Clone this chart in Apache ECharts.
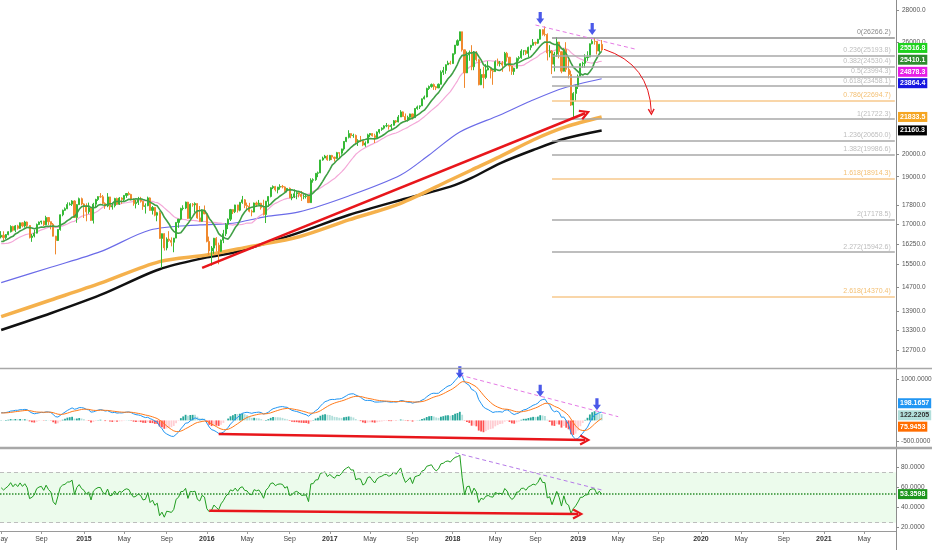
<!DOCTYPE HTML>
<html>
<head>
	<meta charset="utf-8"/>
	<title>DJI weekly</title>
	<script src="https://cdn.jsdelivr.net/npm/echarts@6.0.0/dist/echarts.min.js"></script>
	<style>
		* { padding: 0px; margin: 0px; }
		body { background: #ffffff; }
		#chart { width: 932px; height: 550px; }
	</style>
</head>
<body>
	<div id="chart"></div>
	<script>
		// closes before the first visible week (Jul 2013 - May 2014), only warm up the indicators
		const priorClose = [
			15136,15464,15544,15559,15658,15425,15081,15010,14810,14922,15376,15452,15258,15072,15237,15400,15570,15615,15762,15962,
			16065,16086,16020,15755,16221,16479,16469,16437,16458,15879,15699,15794,16154,16103,16322,16453,16065,16302,16323,16413,
			16027,16409,16361,16513
		];
		// weekly bars from the week of 2014-05-05 to the week of 2019-03-18
		const weekClose = [
			16583,16491,16606,16717,16924,16776,16947,16851,17068,16944,17100,16961,16493,16554,16663,17001,17098,17138,16988,17280,17113,17010,16544,16380,16805,17391,17573,17635,17810,17828,17958,17280,17805,18053,
			17833,17737,17511,17673,17165,17824,18019,18140,18133,17856,17749,18128,17713,17763,18058,17826,18080,18024,18191,18272,18232,18011,17849,17898,18016,17947,17730,17760,18086,17568,17690,17373,17477,16460,16643,16102,16433,16385,16315,16472,17084,17216,17647,17664,17910,17245,17824,17798,17848,17265,17128,17553,17425,
			16347,15988,16094,16466,16205,15974,16392,16640,17007,17213,17602,17515,17793,17577,17898,18004,17774,17740,17535,17501,17873,17807,17865,17675,17401,17949,18147,18517,18571,18432,18544,18576,18553,18396,18492,18085,18124,18261,18308,18240,18138,18146,18161,17888,18848,18868,19152,19171,19757,19843,19934,19763,
			19964,19886,19827,20094,20071,20269,20624,20822,21005,20903,20915,20597,20663,20656,20453,20548,20941,21007,20897,20805,21080,21206,21272,21384,21395,21350,21414,21638,21580,21830,22092,21858,21675,21814,21988,21798,22268,22350,22405,22774,22871,23329,23434,23539,23422,23358,23558,24231,24329,24652,24754,24719,
			25296,25803,26072,26617,25521,24190,25219,25310,24538,25336,24946,23533,24103,23933,24360,24463,24311,24263,24831,24715,24753,24635,25317,25090,24581,24271,24456,25019,25058,25451,25463,25313,25669,25790,25965,25917,26155,26744,26458,26447,25340,25444,24688,25271,25989,25413,24285,25538,24389,24100,22445,23062,
			23433,23996,24706,24737,25064,25106,25883,26031,26026,25450,25849,25516.8
		];
		const weekHigh = [
			16740,16735,16630,16735,16970,16950,16980,16990,17080,17090,17150,17120,16980,16630,16800,17040,17120,17150,17150,17350,17300,17120,17060,16560,16820,17400,17600,17690,17900,17900,17990,17990,17830,18100,
			18100,17860,17860,17890,17690,17880,18050,18160,18290,18210,17900,18290,18130,17880,18090,18100,18120,18110,18210,18290,18350,18260,18070,18000,18130,18130,17950,17860,18140,18110,17750,17700,17510,17540,16650,16660,16500,16740,16500,16480,17090,17220,17680,17780,17930,17920,17860,17870,17900,17860,17750,17610,17770,
			17430,16530,16170,16480,16510,16300,16420,16790,17060,17240,17630,17620,17800,17800,17920,18170,18040,17890,17880,17600,17890,17930,18000,17880,18010,17960,18150,18540,18620,18600,18560,18670,18640,18580,18500,18530,18260,18450,18370,18370,18380,18240,18260,18190,18930,18930,19160,19230,19760,19910,19990,19990,
			19990,19990,19900,20130,20100,20280,20640,20840,21170,21010,21000,20960,20730,20890,20670,20630,21000,21030,21030,21000,21110,21230,21310,21420,21530,21450,21480,21680,21680,21930,22180,22120,22010,21900,22000,22000,22290,22420,22420,22790,22950,23370,23490,23600,23600,23460,23600,24330,24530,24670,24880,24880,
			25300,25810,26150,26620,26620,25530,25430,25480,25800,25450,25450,25000,24420,24540,24690,24860,24480,24410,24900,25010,24870,24870,25400,25400,25100,24600,24480,25070,25150,25560,25490,25520,25710,25820,26170,26010,26180,26770,26770,26950,26520,25800,25510,25400,26280,26000,25420,25620,25980,24950,24320,23130,
			23530,24100,24740,24830,25260,25440,25900,26160,26240,26050,25880,26110
		];
		const weekLow = [
			16460,16370,16440,16580,16690,16730,16700,16800,16830,16890,16880,16900,16460,16330,16500,16650,16980,17010,16940,16980,16980,16810,16540,15860,16360,16760,17330,17550,17620,17770,17750,17270,17070,17800,
			17780,17260,17130,17430,17140,17040,17690,17960,18090,17800,17630,17700,17590,17600,17690,17800,17790,17840,17930,18090,18190,17980,17760,17650,17790,17890,17590,17440,17740,17560,17400,17330,17130,16450,15370,16000,16010,16330,16160,15940,16470,16870,17170,17570,17620,17220,17240,17720,17490,17230,17120,17110,17420,
			16310,15840,15450,15880,15960,15500,15950,16280,16550,16820,17140,17420,17460,17480,17530,17840,17660,17590,17490,17330,17490,17710,17770,17600,17360,17060,17720,18110,18460,18360,18280,18440,18490,18340,18320,18080,17990,18080,18030,18110,17960,18030,18060,17880,17880,18740,18820,18980,19160,19720,19840,19720,
			19720,19750,19680,19800,19830,20000,20190,20590,20770,20780,20800,20510,20410,20590,20400,20370,20530,20840,20860,20550,20780,21000,21140,21210,21320,21200,21230,21400,21520,21560,21830,21840,21600,21600,21710,21700,21800,22200,22240,22400,22740,22850,23250,23370,23250,23240,23350,23550,24070,24140,24650,24660,
			24700,25240,25760,26050,25420,23360,24180,24880,24340,24340,24840,23500,23510,23340,23840,24330,23880,23530,24250,24590,24550,24250,24620,24830,24270,24080,24080,24420,24880,25000,25200,25220,25080,25500,25780,25790,25880,26150,26380,26340,24900,25080,24120,24270,25100,25020,24170,24270,24240,23880,22400,21710,
			22640,23300,23980,24480,24480,24880,25090,25850,25830,25250,25350,25450
		];

		// long moving averages: [week index, value]
		const ma100Pts = [[0,14851],[21,15392],[42,15960],[63,16786],[84,16983],[98,17050],[112,17316],[126,17505],[147,18169],[169,19077],[181,19986],[194,21085],[211,21936],[224,22660],[238,23354],[254,23864.4]];
		const ma150Pts = [[0,13721],[21,14264],[42,14832],[67,15596],[87,15838],[105,16148],[126,16526],[147,17183],[169,17862],[190,18855],[199,19300],[211,19908],[225,20695],[239,21344],[254,21833.5]];
		const ma200Pts = [[0,13302],[21,13830],[42,14432],[67,15322],[87,15752],[98,15922],[112,16277],[126,16682],[147,17383],[169,17998],[190,18565],[199,18946],[211,19602],[225,20218],[239,20778],[254,21160.3]];

		// fibonacci extension levels
		const fibRatio = ['0','0.236','0.382','0.5','0.618','0.786','1','1.236','1.382','1.618','2','2.272','2.618'];
		const fibPrice = [26266.2,25193.8,24530.4,23994.3,23458.1,22694.7,21722.3,20650.0,19986.6,18914.3,17178.5,15942.6,14370.4];
		const fibFrom = 233, fibTo = 378;

		// hand drawn annotations: [week index, value]
		const priceTrend = [[85,15367],[247,22022]];
		const priceFall = [[255,25554],[275,22082]];
		const priceDash = [[226,27040],[268,25573]];
		const priceArrowPts = [[228,27484],[250,26790]];
		const macdTrend = [[92,-331],[247,-477]];
		const macdDash = [[194,1104],[261,90]];
		const macdArrowPts = [[194,1169],[228,722],[252,391]];
		const rsiTrend = [[88,36.9],[244,33.6]];
		const rsiDash = [[192,94.5],[254,57.5]];

		// axis ticks and last value tags
		const priceTicks = [12700,13300,13900,14700,15500,16250,17000,17800,19000,20000,26000,28000];
		const macdTicks = [-500,1000];
		const rsiTicks = [20,40,60,80];
		const priceTags = [25516.8,25410.1,24878.3,23864.4,21833.5,21160.3];
		const macdTags = [198.1657,122.2205,75.9453];
		const rsiTags = [53.3598];

		const UP = '#35b935', DOWN = '#f0892e';
		const ARROW_DOWN = 'path://M3,0 L7,0 L7,7 L10,7 L5,13 L0,7 L3,7 Z';
		const CHEVRON = 'path://M0,9 L5,0 L10,9 L8.2,10 L5,3.8 L1.8,10 Z';
		const FONT = "'Liberation Sans', Arial, sans-serif";

		// weekly categories, running on past the data as in the picture
		const weeks = [];
		for (let i = 0; i < 379; i++) {
			weeks.push(new Date(Date.UTC(2014, 4, 5 + 7 * i)).toISOString().slice(0, 10));
		}
		const monthNames = ['Jan','Feb','Mar','Apr','May','Jun','Jul','Aug','Sep','Oct','Nov','Dec'];
		function showLabel(i) {
			const m = weeks[i].slice(5, 7);
			const first = i === 0 || m !== weeks[i - 1].slice(5, 7);
			return first && (+m - 1) % 4 === 0;
		}
		function fmtDate(v) {
			const m = +v.slice(5, 7) - 1;
			return m === 0 ? '{y|' + v.slice(0, 4) + '}' : monthNames[m];
		}

		// indicators
		const allClose = priorClose.concat(weekClose);
		const P = priorClose.length;
		function sma(src, n) {
			let s = 0;
			return src.map((v, i) => {
				s += v;
				if (i >= n) s -= src[i - n];
				return i >= n - 1 ? s / n : null;
			});
		}
		function ema(src, n) {
			const k = 2 / (n + 1);
			let e = src[0];
			return src.map((v, i) => (e = i ? v * k + e * (1 - k) : v));
		}
		function rsi(src, n) {
			const out = [null];
			let g = 0, l = 0;
			for (let i = 1; i < src.length; i++) {
				const d = src[i] - src[i - 1];
				const up = Math.max(d, 0), dn = Math.max(-d, 0);
				if (i <= n) {
					g += up / n; l += dn / n;
					out.push(i === n ? 100 - 100 / (1 + g / l) : null);
				} else {
					g = (g * (n - 1) + up) / n;
					l = (l * (n - 1) + dn) / n;
					out.push(l === 0 ? 100 : 100 - 100 / (1 + g / l));
				}
			}
			return out;
		}
		const ma10 = sma(allClose, 10).slice(P);
		const ma20 = sma(allClose, 20).slice(P);
		const e12 = ema(allClose, 12), e26 = ema(allClose, 26);
		const macdAll = allClose.map((v, i) => e12[i] - e26[i]);
		const sigAll = ema(macdAll, 9);
		const histAll = macdAll.map((v, i) => v - sigAll[i]);
		const macdLine = macdAll.slice(P);
		const signalLine = sigAll.slice(P);
		const histItems = histAll.slice(P).map((v, i) => {
			const prev = histAll[P + i - 1];
			let c;
			if (v >= 0) c = v > prev ? '#26a69a' : '#b2dfdb';
			else c = v < prev ? '#ff5252' : '#ffcdd2';
			return { value: v, itemStyle: { color: c } };
		});
		const rsiLine = rsi(allClose, 14).slice(P);

		const candles = weekClose.map((c, i) => [allClose[P + i - 1], c, weekLow[i], weekHigh[i]]);

		function seg(pts, style, arrow, size) {
			return [
				{ coord: pts[0], lineStyle: style, symbol: 'none', label: { show: false } },
				{ coord: pts[1], symbol: arrow || 'none', symbolSize: size || 10 }
			];
		}
		const RED = { color: '#e8161b', width: 2.5, type: 'solid' };
		const PINK = { color: '#e57ae5', width: 1, type: [4, 3] };

		const fibLines = fibPrice.map((p, i) => {
			const orange = ['0.786', '1.618', '2.618'].indexOf(fibRatio[i]) >= 0;
			const lineColor = i === 0 ? '#8f8f8f' : (orange ? '#f7c98c' : '#a9a9a9');
			const textColor = i === 0 ? '#8a8a8a' : (orange ? '#f3bf72' : '#bdbdbd');
			return [
				{
					coord: [fibFrom, p], symbol: 'none',
					lineStyle: { color: lineColor, width: 1.5, type: 'solid' },
					label: {
						show: true, position: 'insideEndTop', distance: [4, 2],
						formatter: fibRatio[i] + '(' + p.toFixed(1) + ')',
						color: textColor, fontSize: 7, fontFamily: FONT
					}
				},
				{ coord: [fibTo, p], symbol: 'none' }
			];
		});

		const priceAxisBase = {
			position: 'right',
			axisLine: { show: true, lineStyle: { color: '#8c8c8c', width: 1 } },
			splitLine: { show: false }
		};

		const option = {
			animation: false,
			backgroundColor: '#ffffff',
			textStyle: { fontFamily: FONT },
			grid: [
				{ left: 0, right: 36, top: 0, height: 368, outerBoundsMode: 'none', containLabel: false },
				{ left: 0, right: 36, top: 369, height: 78, outerBoundsMode: 'none', containLabel: false },
				{ left: 0, right: 36, top: 449, height: 82, outerBoundsMode: 'none', containLabel: false }
			],
			xAxis: [0, 1, 2].map(g => ({
				type: 'category', gridIndex: g, data: weeks, boundaryGap: true,
				axisLine: { show: g === 2, lineStyle: { color: '#9a9a9a' } },
				axisTick: { show: g === 2, interval: showLabel, alignWithLabel: true, length: 3, lineStyle: { color: '#9a9a9a' } },
				axisLabel: {
					show: g === 2, interval: showLabel, formatter: fmtDate,
					fontSize: 7, color: '#444', margin: 5, hideOverlap: false,
					rich: { y: { fontSize: 7, fontWeight: 'bold', color: '#333' } }
				},
				splitLine: { show: false }
			})),
			yAxis: [
				Object.assign({
					type: 'log', gridIndex: 0, logBase: 10, min: 12177, max: 28659,
					axisTick: { show: true, length: 3, customValues: priceTicks, lineStyle: { color: '#8c8c8c' } },
					axisLabel: { customValues: priceTicks, formatter: v => Number(v).toFixed(1), fontSize: 6.5, color: '#555', margin: 6 }
				}, priceAxisBase),
				Object.assign({
					type: 'value', gridIndex: 1, min: -647, max: 1250,
					axisTick: { show: true, length: 3, customValues: macdTicks, lineStyle: { color: '#8c8c8c' } },
					axisLabel: { customValues: macdTicks, formatter: v => Number(v).toFixed(4), fontSize: 6.5, color: '#555', margin: 5 }
				}, priceAxisBase),
				Object.assign({
					type: 'value', gridIndex: 2, min: 16.7, max: 98.2,
					axisTick: { show: true, length: 3, customValues: rsiTicks, lineStyle: { color: '#8c8c8c' } },
					axisLabel: { customValues: rsiTicks, formatter: v => Number(v).toFixed(4), fontSize: 6.5, color: '#555', margin: 5 }
				}, priceAxisBase)
			],
			series: [
				{
					type: 'line', name: 'MA200', xAxisIndex: 0, yAxisIndex: 0, data: ma200Pts,
					smooth: 0.3, showSymbol: false, z: 2,
					lineStyle: { color: '#111111', width: 2.5 }
				},
				{
					type: 'line', name: 'MA150', xAxisIndex: 0, yAxisIndex: 0, data: ma150Pts,
					smooth: 0.3, showSymbol: false, z: 2,
					lineStyle: { color: '#f5b14c', width: 3.5 }
				},
				{
					type: 'line', name: 'MA100', xAxisIndex: 0, yAxisIndex: 0, data: ma100Pts,
					smooth: 0.3, showSymbol: false, z: 2,
					lineStyle: { color: '#6b6be8', width: 1.2 }
				},
				{
					type: 'line', name: 'MA20', xAxisIndex: 0, yAxisIndex: 0, data: ma20,
					showSymbol: false, z: 2,
					lineStyle: { color: '#f4a8d8', width: 1.2 }
				},
				{
					type: 'candlestick', name: 'DJI', xAxisIndex: 0, yAxisIndex: 0, data: candles,
					barWidth: 1.6, z: 3,
					itemStyle: { color: UP, color0: DOWN, borderColor: UP, borderColor0: DOWN, borderWidth: 1 },
					markLine: { silent: true, symbol: ['none', 'none'], animation: false, data: fibLines }
				},
				{
					type: 'line', name: 'MA10', xAxisIndex: 0, yAxisIndex: 0, data: ma10,
					showSymbol: false, z: 4,
					lineStyle: { color: '#3f9f45', width: 1.6 },
					markLine: {
						silent: true, symbol: ['none', 'none'], animation: false, z: 6,
						data: [seg(priceTrend, RED, CHEVRON, 11), seg(priceDash, PINK)]
					}
				},
				{
					type: 'lines', coordinateSystem: 'cartesian2d', xAxisIndex: 0, yAxisIndex: 0,
					silent: true, z: 6, symbol: ['none', CHEVRON], symbolSize: 7,
					lineStyle: { color: '#e8161b', width: 1, curveness: 0.35, opacity: 1 },
					data: [{ coords: priceFall }]
				},
				{
					type: 'scatter', xAxisIndex: 0, yAxisIndex: 0, data: priceArrowPts,
					symbol: ARROW_DOWN, symbolSize: [8, 12], z: 10, silent: true,
					itemStyle: { color: '#1e2fe3' }
				},
				{
					type: 'bar', name: 'Histogram', xAxisIndex: 1, yAxisIndex: 1, data: histItems,
					barWidth: 1.8
				},
				{
					type: 'line', name: 'MACD', xAxisIndex: 1, yAxisIndex: 1, data: macdLine,
					showSymbol: false, lineStyle: { color: '#2196f3', width: 1 }
				},
				{
					type: 'line', name: 'Signal', xAxisIndex: 1, yAxisIndex: 1, data: signalLine,
					showSymbol: false, lineStyle: { color: '#ff7a1a', width: 1 },
					markLine: {
						silent: true, symbol: ['none', 'none'], animation: false,
						data: [seg(macdTrend, RED, CHEVRON, 11), seg(macdDash, PINK)]
					}
				},
				{
					type: 'scatter', xAxisIndex: 1, yAxisIndex: 1, data: macdArrowPts,
					symbol: ARROW_DOWN, symbolSize: [8, 12], z: 10, silent: true,
					itemStyle: { color: '#1e2fe3' }
				},
				{
					type: 'line', name: 'RSI', xAxisIndex: 2, yAxisIndex: 2, data: rsiLine,
					showSymbol: false, lineStyle: { color: '#1f9d1f', width: 1 },
					markArea: {
						silent: true,
						itemStyle: { color: 'rgba(70, 220, 70, 0.10)' },
						data: [[{ yAxis: 25 }, { yAxis: 75 }]]
					},
					markLine: {
						silent: true, symbol: ['none', 'none'], animation: false,
						label: { show: false },
						data: [
							{ yAxis: 75, lineStyle: { color: '#bdbdbd', width: 1, type: [4, 3] } },
							{ yAxis: 25, lineStyle: { color: '#bdbdbd', width: 1, type: [4, 3] } },
							{ yAxis: rsiTags[0], lineStyle: { color: '#2b8f2b', width: 1.5, type: 'dotted' } },
							seg(rsiTrend, RED, CHEVRON, 11),
							seg(rsiDash, { color: '#b57ae8', width: 1, type: [4, 3] })
						]
					}
				}
			]
		};

		const chart = echarts.init(document.getElementById('chart'));
		chart.setOption(option);

		const priceTagLook = [
			{ bg: '#1ed21e', dy: -2 }, { bg: '#2e8b2e', dy: 8 }, { bg: '#e61ee6', dy: 11 },
			{ bg: '#1616e0', dy: 4.5 }, { bg: '#f5a623', dy: 0 }, { bg: '#000000', dy: 0 }
		];
		const macdTagLook = [
			{ bg: '#2196f3', dy: -9 }, { bg: '#b2dfdb', fg: '#333333', dy: 0 }, { bg: '#ff6d00', dy: 9.4 }
		];
		const rsiTagLook = [{ bg: '#1e961e', dy: 0 }];

		function tags(values, looks, axis, digits) {
			return values.map((v, i) => ({
				type: 'text', x: 898, y: chart.convertToPixel({ yAxisIndex: axis }, v) + looks[i].dy, z: 100,
				style: {
					text: v.toFixed(digits), fill: looks[i].fg || '#ffffff',
					backgroundColor: looks[i].bg, padding: [2, 2, 1, 2],
					font: 'bold 7px ' + FONT, verticalAlign: 'middle', align: 'left'
				}
			}));
		}

		chart.setOption({
			graphic: [
				{ type: 'line', z: 50, shape: { x1: 0, y1: 368.5, x2: 932, y2: 368.5 }, style: { stroke: '#a8a8a8', lineWidth: 1.5 } },
				{ type: 'line', z: 50, shape: { x1: 0, y1: 448, x2: 932, y2: 448 }, style: { stroke: '#a8a8a8', lineWidth: 2.5 } },
				{ type: 'line', z: 50, shape: { x1: 896.5, y1: 531, x2: 896.5, y2: 550 }, style: { stroke: '#8c8c8c', lineWidth: 1 } }
			].concat(
				tags(priceTags, priceTagLook, 0, 1),
				tags(macdTags, macdTagLook, 1, 4),
				tags(rsiTags, rsiTagLook, 2, 4)
			)
		});
	</script>
</body>
</html>
